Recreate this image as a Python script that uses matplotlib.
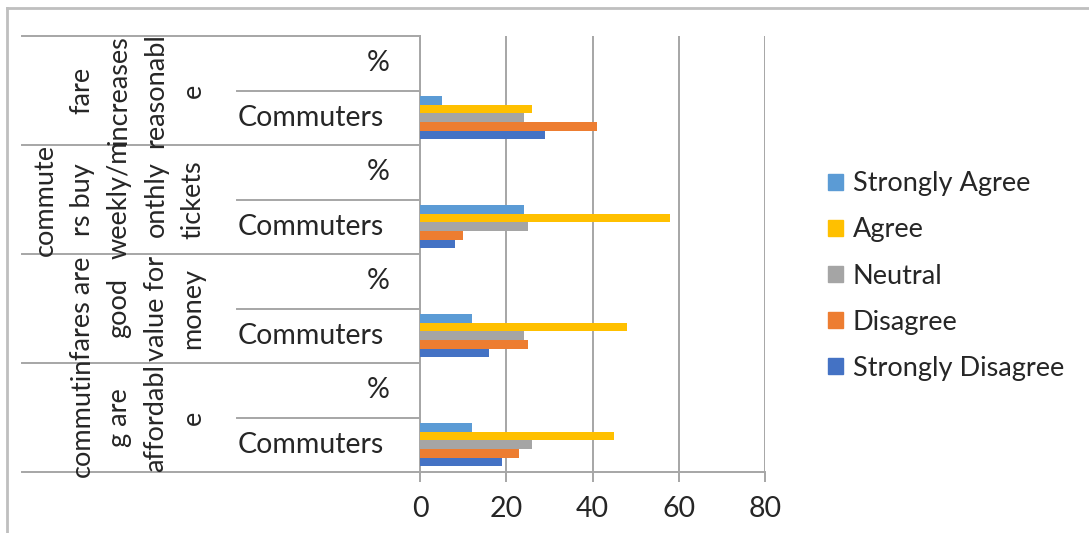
import numpy as np
import matplotlib
matplotlib.use("Agg")
import matplotlib.pyplot as plt
from matplotlib.transforms import blended_transform_factory
from matplotlib.patches import Patch
from matplotlib.lines import Line2D

plt.rcParams["font.family"] = ["Lato", "DejaVu Sans"]

# survey statements, top to bottom, with the wrapping used in the category column
statements = [
    ["fare", "increases", "reasonabl", "e"],
    ["commute", "rs buy", "weekly/m", "onthly", "tickets"],
    ["fares are", "good", "value for", "money"],
    ["commutin", "g are", "affordabl", "e"],
]
sub_labels = ["%", "Commuters"]

series = ["Strongly Agree", "Agree", "Neutral", "Disagree", "Strongly Disagree"]
strongly_agree = [5, 24, 12, 12]
agree = [26, 58, 48, 45]
neutral = [24, 25, 24, 26]
disagree = [41, 10, 25, 23]
strongly_disagree = [29, 8, 16, 19]
values = [strongly_agree, agree, neutral, disagree, strongly_disagree]
colors = ["#5B9BD5", "#FFC000", "#A5A5A5", "#ED7D31", "#4472C4"]

W, H = 1089, 533
FS = 20.5
TXT = "#262626"
fig = plt.figure(figsize=(W / 100, H / 100), dpi=100)
ax = fig.add_axes([420 / W, 61 / H, 345 / W, 436 / H])

n = len(statements)
# each statement gets two slots: "%" (empty) on top, "Commuters" below
commuter_y = np.array([2 * (n - 1 - i) for i in range(n)], dtype=float)
bar_h = 0.156
for k, (name, vals, col) in enumerate(zip(series, values, colors)):
    ax.barh(commuter_y + (2 - k) * bar_h, vals, height=bar_h, color=col,
            label=name, zorder=3)

ax.set_xlim(0, 80)
ax.set_ylim(-0.5, 2 * n - 0.5)
ax.set_xticks(np.arange(0, 81, 20))
ax.set_yticks([])
ax.grid(True, axis="x", color="#A6A6A6", lw=1.4, zorder=0)
for s in ["top", "right"]:
    ax.spines[s].set_visible(False)
for s in ["left", "bottom"]:
    ax.spines[s].set_color("#A6A6A6")
    ax.spines[s].set_linewidth(1.4)
ax.tick_params(axis="x", length=7, width=1.4, color="#A6A6A6", labelsize=FS,
               labelcolor=TXT, pad=10)

# category column: separators and labels drawn left of the axis
tr = blended_transform_factory(fig.transFigure, ax.transData)
grey = "#A6A6A6"
for i in range(n):
    top = 2 * (n - 1 - i) + 1.5
    mid = top - 1
    ax.add_line(Line2D([22 / W, 420 / W], [top, top], transform=tr, color=grey,
                       lw=1.4, clip_on=False))
    ax.add_line(Line2D([237 / W, 420 / W], [mid, mid], transform=tr, color=grey,
                       lw=1.4, clip_on=False))
    ax.text(390 / W, mid + 0.5, sub_labels[0], transform=tr, ha="right",
            va="center", fontsize=FS, color=TXT)
    ax.text(384 / W, mid - 0.5, sub_labels[1], transform=tr, ha="right",
            va="center", fontsize=FS, color=TXT)
    lines = statements[i]
    for j, line in enumerate(lines):
        xpx = 193 - (len(lines) - 1 - j) * 37
        ax.text(xpx / W, mid, line, transform=tr, rotation=90, ha="center",
                va="center", fontsize=19.5, color=TXT)
ax.add_line(Line2D([22 / W, 420 / W], [-0.5, -0.5], transform=tr, color=grey,
                   lw=1.4, clip_on=False))

leg = fig.legend(handles=[Patch(color=c, label=s) for s, c in zip(series, colors)],
                 loc="center left", bbox_to_anchor=(804 / W, 1 - 276 / H),
                 frameon=False, fontsize=19.5, handlelength=0.55, handleheight=0.55,
                 handletextpad=0.35, labelspacing=0.78, labelcolor=TXT)

# chart frame (top and left edges)
fig.add_artist(Line2D([7 / W, 1], [1 - 8 / H, 1 - 8 / H], color="#BFBFBF", lw=2))
fig.add_artist(Line2D([7 / W, 7 / W], [0, 1 - 8 / H], color="#BFBFBF", lw=2))

fig.savefig("out.png", dpi=100)
